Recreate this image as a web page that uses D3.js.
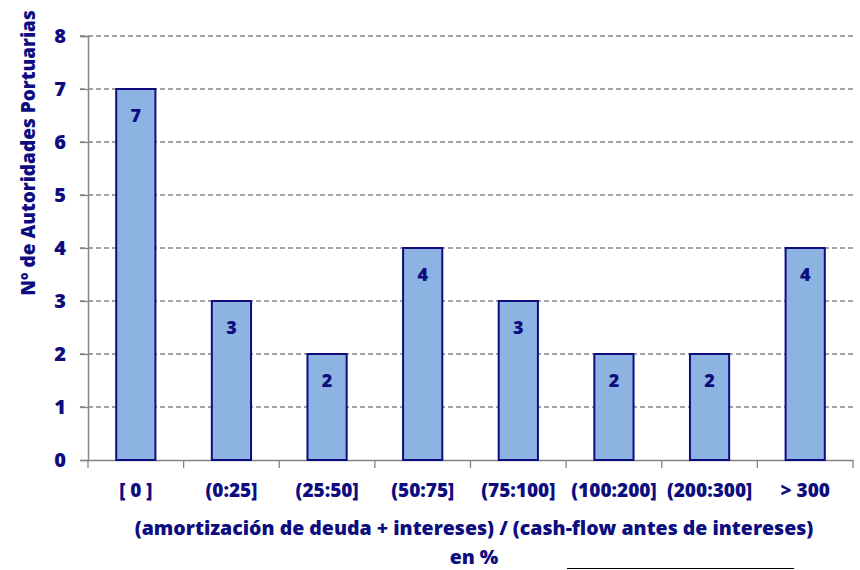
<!DOCTYPE html>
<html>
<head>
<meta charset="utf-8">
<script src="https://cdn.jsdelivr.net/npm/d3@7"></script>
<style>
  body { margin: 0; background: #fff; }
  text { font-family: "Open Sans", sans-serif; font-weight: 800; fill: #0d0d80; }
</style>
</head>
<body>
<div id="chart"></div>
<script>
// Data
//-----------
var categories = ["[ 0 ]", "(0:25]", "(25:50]", "(50:75]", "(75:100]", "(100:200]", "(200:300]", "> 300"];
var counts = [7, 3, 2, 4, 3, 2, 2, 4];
var yTicks = [0, 1, 2, 3, 4, 5, 6, 7, 8];

var w = 860, h = 570;
var mLeft = 88, mRight = 853, mTop = 36, mBottom = 460;
var navy = "#0d0d80";
var font = "'Open Sans', sans-serif";

var svg = d3.select("#chart").append("svg")
  .attr("width", w)
  .attr("height", h);

// Scales
//-----------
var xScale = d3.scaleBand(categories, [mLeft, mRight]).paddingInner(0.59).paddingOuter(0.295);
var yScale = d3.scaleLinear([0, 8], [mBottom, mTop]);

// Gridlines
svg.append("g")
  .selectAll("line")
  .data(yTicks.filter(function(d) { return d > 0; }))
  .enter()
  .append("line")
  .attr("x1", mLeft - 8)
  .attr("x2", mRight)
  .attr("y1", function(d) { return yScale(d); })
  .attr("y2", function(d) { return yScale(d); })
  .attr("stroke", "#858585")
  .attr("stroke-width", 1.3)
  .attr("stroke-dasharray", "5,3");

// Y axis
var yAxis = svg.append("g")
  .attr("transform", "translate(" + mLeft + ",0)")
  .call(d3.axisLeft(yScale).tickValues(yTicks).tickSize(8).tickFormat(d3.format("d")));
yAxis.select(".domain").attr("stroke", "#858585").attr("stroke-width", 1.5);
yAxis.selectAll(".tick line").attr("stroke", "#858585").attr("stroke-width", 1.3);
yAxis.selectAll(".tick text")
  .attr("font-size", "20px")
  .attr("font-family", font)
  .attr("font-weight", 800)
  .attr("fill", navy)
  .attr("x", -22);

// X axis
var xAxis = svg.append("g")
  .attr("transform", "translate(0," + mBottom + ")")
  .call(d3.axisBottom(xScale).tickSize(0).tickPadding(24));
xAxis.select(".domain").attr("stroke", "#858585").attr("stroke-width", 1.5);
xAxis.selectAll(".tick text")
  .attr("font-size", "19px")
  .attr("font-family", font)
  .attr("font-weight", 800)
  .attr("fill", navy);

// Category boundary ticks
var step = xScale.step();
svg.append("g")
  .selectAll("line")
  .data(d3.range(categories.length + 1))
  .enter()
  .append("line")
  .attr("x1", function(i) { return mLeft + i * step; })
  .attr("x2", function(i) { return mLeft + i * step; })
  .attr("y1", mBottom)
  .attr("y2", mBottom + 8)
  .attr("stroke", "#858585")
  .attr("stroke-width", 1.3);

// Bars
//-----------
svg.append("g")
  .selectAll("rect")
  .data(counts)
  .enter()
  .append("rect")
  .attr("x", function(d, i) { return xScale(categories[i]); })
  .attr("y", function(d) { return yScale(d); })
  .attr("width", xScale.bandwidth())
  .attr("height", function(d) { return mBottom - yScale(d); })
  .attr("fill", "#8db3e2")
  .attr("stroke", navy)
  .attr("stroke-width", 2);

// Labels
//-----------
svg.append("g")
  .selectAll("text")
  .data(counts)
  .enter()
  .append("text")
  .text(function(d) { return d; })
  .attr("text-anchor", "middle")
  .attr("x", function(d, i) { return xScale(categories[i]) + xScale.bandwidth() / 2; })
  .attr("y", function(d) { return yScale(d) + 33; })
  .attr("font-size", "18px");

// Axis titles
svg.append("text")
  .text("Nº de Autoridades Portuarias")
  .attr("text-anchor", "middle")
  .attr("transform", "translate(35,153) rotate(-90)")
  .attr("font-size", "19px");

svg.append("text")
  .text("(amortización de deuda + intereses) / (cash-flow antes de intereses)")
  .attr("text-anchor", "middle")
  .attr("x", 474)
  .attr("y", 535)
  .attr("font-size", "19.5px");

svg.append("text")
  .text("en %")
  .attr("text-anchor", "middle")
  .attr("x", 474)
  .attr("y", 564)
  .attr("font-size", "19.5px");

// line under the footer
svg.append("line")
  .attr("x1", 567)
  .attr("x2", 794)
  .attr("y1", 568.5)
  .attr("y2", 568.5)
  .attr("stroke", "#000")
  .attr("stroke-width", 1);
</script>
</body>
</html>
